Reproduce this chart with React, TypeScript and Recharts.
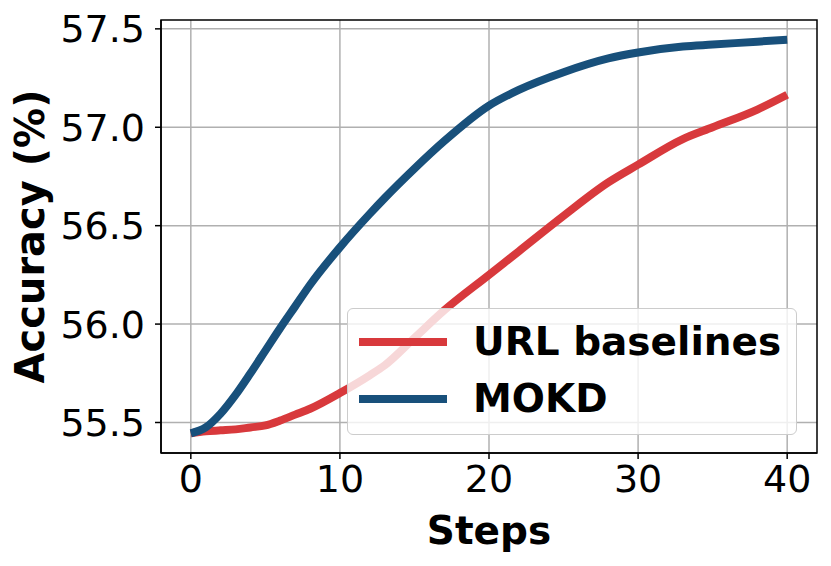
import React from 'react';
import { LineChart, Line, XAxis, YAxis, CartesianGrid, Legend, ReferenceArea } from 'recharts';

const steps = [0, 1, 2, 3, 4, 5, 6, 7, 8, 10, 12, 13, 15, 17, 20, 22, 25, 28, 30, 33, 35, 38, 40];
const urlBaselines = [55.445, 55.455, 55.46, 55.465, 55.475, 55.485, 55.51, 55.54, 55.57, 55.65, 55.74, 55.79, 55.93, 56.07, 56.25, 56.37, 56.55, 56.72, 56.81, 56.94, 57.0, 57.09, 57.165];
const mokd = [55.445, 55.475, 55.545, 55.64, 55.75, 55.865, 55.98, 56.09, 56.2, 56.39, 56.56, 56.64, 56.79, 56.93, 57.11, 57.19, 57.28, 57.35, 57.38, 57.41, 57.42, 57.435, 57.445];
const xTicks = [0, 10, 20, 30, 40];
const yTicks = [55.5, 56.0, 56.5, 57.0, 57.5];

const RED = '#d8393c';
const BLUE = '#18507b';
const FONT = '"DejaVu Sans", sans-serif';

const data = steps.map((s, i) => ({ step: s, url: urlBaselines[i], mokd: mokd[i] }));

const legendItems = [
  { name: 'URL baselines', color: RED },
  { name: 'MOKD', color: BLUE },
];

const renderLegend = () => (
  <div
    style={{
      width: 450,
      height: 127,
      boxSizing: 'border-box',
      border: '1.5px solid #cccccc',
      borderRadius: 6,
      background: 'rgba(255,255,255,0.8)',
      padding: '4px 0 0 11px',
      fontFamily: FONT,
      fontWeight: 'bold',
      fontSize: 39,
      lineHeight: 1,
      textAlign: 'left',
    }}
  >
    {legendItems.map((it) => (
      <div key={it.name} style={{ display: 'flex', alignItems: 'center', height: 57 }}>
        <div style={{ width: 88, height: 8, background: it.color, marginRight: 26 }} />
        <span style={{ color: '#000' }}>{it.name}</span>
      </div>
    ))}
  </div>
);

const App = () => {
  return (
    <div style={{ position: 'absolute', left: 0, top: 0, background: '#fff' }}>
      <LineChart width={831} height={566} data={data} margin={{ top: 20, right: 14, left: 0, bottom: 0 }}>
        <CartesianGrid stroke="#b0b0b0" strokeWidth={1.5} horizontalValues={yTicks} verticalValues={xTicks} />
        <XAxis
          dataKey="step"
          type="number"
          domain={[-2, 42]}
          ticks={xTicks}
          allowDataOverflow
          height={113}
          tickSize={6}
          tickMargin={6}
          stroke="#000"
          strokeWidth={1.5}
          tick={{ fill: '#000', fontSize: 38, fontFamily: FONT }}
          label={{ value: 'Steps', position: 'insideBottom', offset: 22, fill: '#000', fontSize: 39, fontWeight: 'bold', fontFamily: FONT }}
        />
        <YAxis
          type="number"
          domain={[55.345, 57.545]}
          ticks={yTicks}
          allowDataOverflow
          width={161}
          tickSize={6}
          tickMargin={10}
          stroke="#000"
          strokeWidth={1.5}
          tickFormatter={(v: number) => v.toFixed(1)}
          tick={{ fill: '#000', fontSize: 38, fontFamily: FONT }}
          label={{ value: 'Accuracy (%)', angle: -90, position: 'insideLeft', offset: 30, fill: '#000', fontSize: 40, fontWeight: 'bold', fontFamily: FONT, style: { textAnchor: 'middle' } }}
        />
        <ReferenceArea x1={-2} x2={42} y1={55.345} y2={57.545} fill="none" stroke="#000" strokeWidth={1.5} ifOverflow="visible" />
        <Line type="monotone" dataKey="url" name="URL baselines" stroke={RED} strokeWidth={8} dot={false} isAnimationActive={false} />
        <Line type="monotone" dataKey="mokd" name="MOKD" stroke={BLUE} strokeWidth={8} dot={false} isAnimationActive={false} />
        <Legend
          layout="horizontal"
          verticalAlign="middle"
          align="center"
          content={renderLegend}
          wrapperStyle={{ left: 347, top: 308, width: 450, height: 127, position: 'absolute' }}
        />
      </LineChart>
    </div>
  );
};

export default App;
